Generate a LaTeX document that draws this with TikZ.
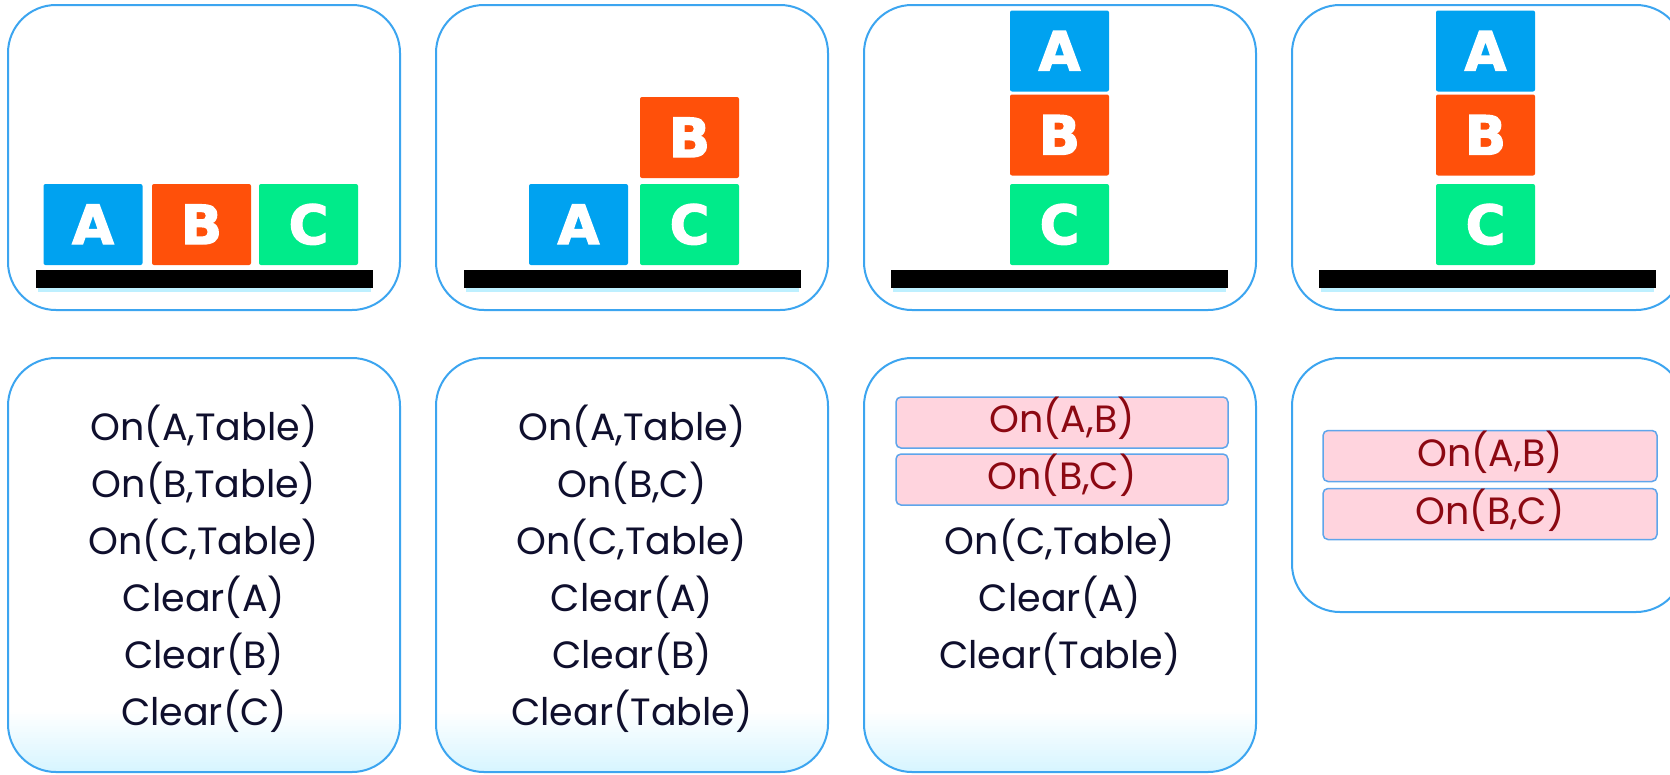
\documentclass[tikz,border=0pt]{standalone}
\usepackage{fontspec}
\setmainfont{Poppins}
\newfontfamily\blockfont{DejaVu Sans}[BoldFeatures={FakeBold=2.5}]

\definecolor{panelblue}{RGB}{60,165,240}
\definecolor{fadecyan}{RGB}{215,245,255}
\definecolor{blockA}{RGB}{0,162,240}
\definecolor{blockB}{RGB}{255,80,10}
\definecolor{blockC}{RGB}{0,235,138}
\definecolor{ink}{RGB}{15,15,45}
\definecolor{pinkfill}{RGB}{255,212,222}
\definecolor{pinkedge}{RGB}{95,165,235}
\definecolor{pinktext}{RGB}{140,8,18}
\definecolor{barshadow}{RGB}{190,240,255}

\tikzset{
  panel/.style={draw=panelblue, line width=2pt, fill=white, rounded corners=48pt,
    minimum width=392pt, inner sep=0pt},
  % soft cyan wash rising from the bottom edge, built from thin bands
  fadepanel/.style={panel, path picture={
      \foreach \k in {0,...,29}{
        \pgfmathsetmacro\ylo{2*\k}
        \pgfmathsetmacro\yhi{2*\k+2.3}
        \pgfmathsetmacro\pct{100-\k*100/30}
        \fill[sharp corners, fadecyan!\pct!white]
          ([yshift=\ylo pt]path picture bounding box.south west) rectangle
          ([yshift=\yhi pt]path picture bounding box.south east);
      }}},
  tablebar/.style={fill=black, minimum width=337pt, minimum height=18pt, inner sep=0pt},
  barglow/.style={fill=barshadow, minimum width=333pt, minimum height=4pt, inner sep=0pt},
  block/.style={rounded corners=2pt, minimum width=99pt, minimum height=81pt,
    inner sep=0pt, text=white, font=\blockfont\bfseries\fontsize{54}{54}\selectfont,
    text height=39pt, text depth=0pt},
  fact/.style={anchor=base, inner sep=0pt, text=ink, font=\fontsize{38}{38}\selectfont},
  goalfact/.style={fill=pinkfill, draw=pinkedge, line width=1.5pt, rounded corners=5pt,
    inner sep=0pt, minimum height=51pt, text=pinktext,
    font=\fontsize{38}{38}\selectfont, text height=26pt, text depth=6pt}
}

\begin{document}
\begin{tikzpicture}[x=1pt,y=-1pt]
\useasboundingbox (0,0) rectangle (1670,774);
\clip (0,0) rectangle (1670,774);
\fill[white] (0,0) rectangle (1670,774);

% ---- top row: block worlds ----
\node[panel, minimum height=305pt] (s1) at (204,157.5) {};
\node[panel, minimum height=305pt] (s2) at (632,157.5) {};
\node[panel, minimum height=305pt] (s3) at (1060,157.5) {};
\node[panel, minimum height=305pt] (s4) at (1488,157.5) {};

\foreach \cx/\nm in {204.5/tab1, 632/tab2, 1059/tab3, 1487.5/tab4}{
  \node[barglow] (\nm g) at (\cx,290) {};
  \node[tablebar] (\nm) at (\cx,279) {};
}

% world 1: all on the table
\node[block, fill=blockA] (a1) at (93,224.5) {A};
\node[block, fill=blockB] (b1) at (201.5,224.5) {B};
\node[block, fill=blockC] (c1) at (308.5,224.5) {C};

% world 2: B on C
\node[block, fill=blockA] (a2) at (578.5,224.5) {A};
\node[block, fill=blockC] (c2) at (689.5,224.5) {C};
\node[block, fill=blockB] (b2) at (689.5,137.5) {B};

% world 3: A on B on C
\node[block, fill=blockC] (c3) at (1059.5,224.5) {C};
\node[block, fill=blockB] (b3) at (1059.5,135) {B};
\node[block, fill=blockA] (a3) at (1059.5,51) {A};

% world 4: goal stack
\node[block, fill=blockC] (c4) at (1485.5,224.5) {C};
\node[block, fill=blockB] (b4) at (1485.5,135) {B};
\node[block, fill=blockA] (a4) at (1485.5,51) {A};

% ---- bottom row: state descriptions ----
\node[fadepanel, minimum height=414pt] (d1) at (204,565) {};
\node[fadepanel, minimum height=414pt] (d2) at (632,565) {};
\node[fadepanel, minimum height=414pt] (d3) at (1060,565) {};
\node[panel, minimum height=254pt] (d4) at (1488,485) {};

% state 1
\node[fact] (f11) at (204,440) {On(A,Table)};
\node[fact] (f12) at (204,497) {On(B,Table)};
\node[fact] (f13) at (204,554) {On(C,Table)};
\node[fact] (f14) at (204,611) {Clear(A)};
\node[fact] (f15) at (204,668) {Clear(B)};
\node[fact] (f16) at (204,725) {Clear(C)};

% state 2
\node[fact] (f21) at (632,440) {On(A,Table)};
\node[fact] (f22) at (632,497) {On(B,C)};
\node[fact] (f23) at (632,554) {On(C,Table)};
\node[fact] (f24) at (632,611) {Clear(A)};
\node[fact] (f25) at (632,668) {Clear(B)};
\node[fact] (f26) at (632,725) {Clear(Table)};

% state 3
\node[goalfact, minimum width=332pt] (f31) at (1062,422.5) {On(A,B)};
\node[goalfact, minimum width=332pt] (f32) at (1062,479.5) {On(B,C)};
\node[fact] (f33) at (1060,554) {On(C,Table)};
\node[fact] (f34) at (1060,611) {Clear(A)};
\node[fact] (f35) at (1060,668) {Clear(Table)};

% goal
\node[goalfact, minimum width=334pt] (f41) at (1490,456) {On(A,B)};
\node[goalfact, minimum width=334pt] (f42) at (1490,514) {On(B,C)};
\end{tikzpicture}
\end{document}
